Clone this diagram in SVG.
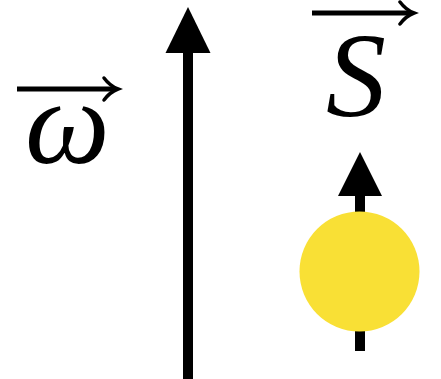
<svg xmlns="http://www.w3.org/2000/svg" width="441" height="379" viewBox="0 0 441 379">
<style>
.vec{fill:none;stroke:#000;stroke-width:5}
.vh{fill:none;stroke:#000;stroke-width:3.5;stroke-linecap:round}
</style>
<rect width="441" height="379" fill="#fff"/>
<g id="connectors">
<rect x="183" y="50" width="10" height="329" fill="#000"/>
<polygon points="188,7 210.5,53 165.5,53" fill="#000"/>
</g>
<g id="omega">
<text x="25" y="163" style="font-family:'Liberation Serif','Times New Roman',serif;font-style:italic;font-size:120px" fill="#000">ω</text>
<line class="vec" x1="17" y1="89" x2="116" y2="89"/>
<path class="vh" d="M104,78 Q110,86 118,89 Q110,92 104,100"/>
</g>
<g id="spin">
<text x="326" y="116" style="font-family:'Liberation Serif','Times New Roman',serif;font-style:italic;font-size:120px" fill="#000">S</text>
<line class="vec" x1="312" y1="13" x2="411" y2="13"/>
<path class="vh" d="M400,2 Q406,10 414,13 Q406,16 400,24"/>
</g>
<g id="particle">
<rect x="355" y="192" width="10" height="159" fill="#000"/>
<polygon points="360,152 382,196 338,196" fill="#000"/>
<circle cx="359.5" cy="271.5" r="60" fill="#F9E035"/>
</g>
</svg>
